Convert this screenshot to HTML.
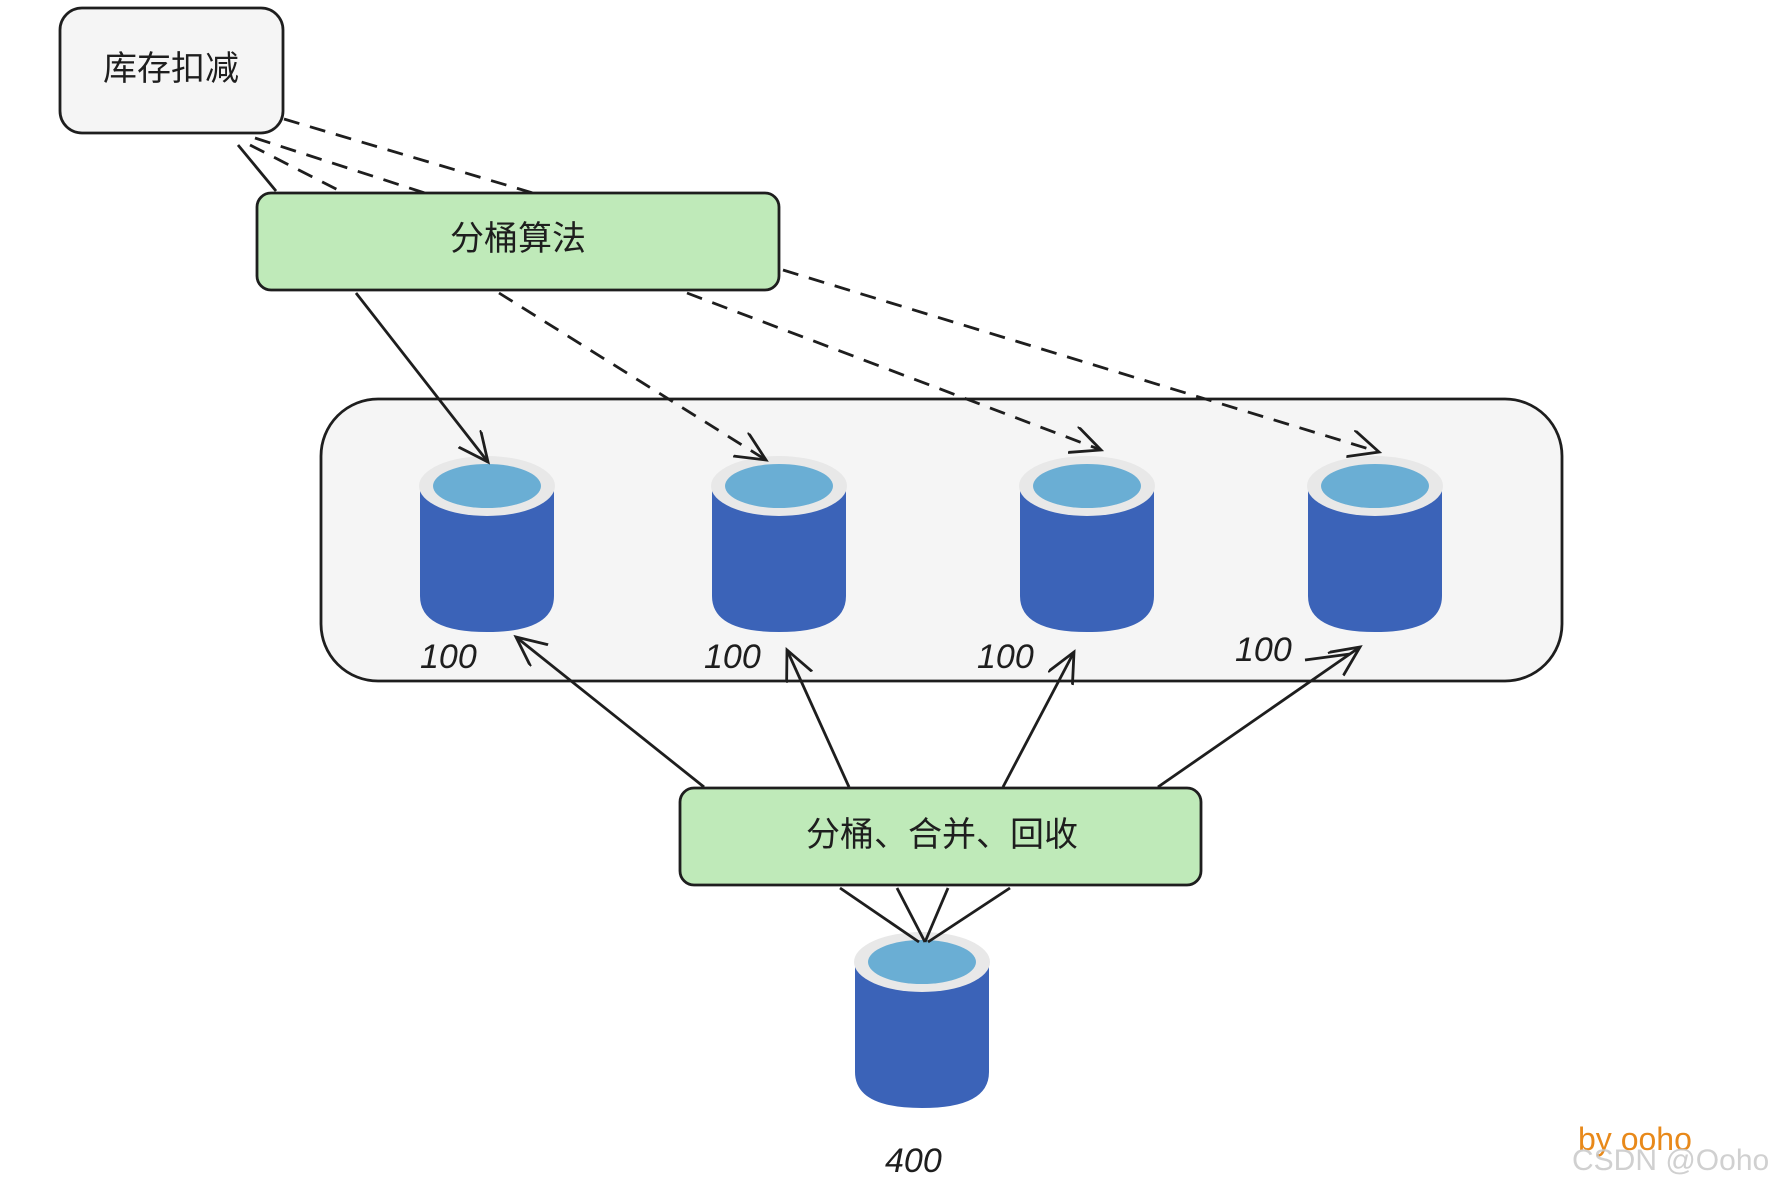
<!DOCTYPE html>
<html><head><meta charset="utf-8"><style>
html,body{margin:0;padding:0;background:#fff;}
svg{display:block;}
.t{font-family:"Liberation Sans","Noto Sans CJK SC",sans-serif;fill:#1e1e1e;}
.n{font-family:"Liberation Sans",sans-serif;font-style:italic;fill:#1e1e1e;}
</style></head><body>
<svg width="1780" height="1186" viewBox="0 0 1780 1186" xmlns="http://www.w3.org/2000/svg">
<defs>
<marker id="a" markerWidth="34" markerHeight="34" refX="30" refY="14" orient="auto" markerUnits="userSpaceOnUse">
<polyline points="0,0 30,14 0,28" fill="none" stroke="#1e1e1e" stroke-width="2.8"/>
</marker>
<g id="cyl">
<path d="M-67,0 L-67,110 Q-67,146 0,146 Q67,146 67,110 L67,0 Z" fill="#3b63b8"/>
<ellipse cx="0" cy="0" rx="68" ry="30" fill="#e8e8e8"/>
<ellipse cx="0" cy="0" rx="54" ry="22" fill="#6aaed4"/>
</g>
</defs>
<rect x="60" y="8" width="223" height="125" rx="22" fill="#f5f5f5" stroke="#1e1e1e" stroke-width="2.8"/>
<text class="t" x="171" y="80" font-size="34" text-anchor="middle">库存扣减</text>
<g stroke="#1e1e1e" stroke-width="2.8" fill="none">
<line x1="238" y1="145" x2="276" y2="191"/>
<g stroke-dasharray="16 11">
<line x1="284" y1="119" x2="533" y2="193"/>
<line x1="255" y1="138" x2="431" y2="195"/>
<line x1="250" y1="145" x2="340" y2="191"/>
</g>
</g>
<rect x="321" y="399" width="1241" height="282" rx="57" fill="#f5f5f5" stroke="#1e1e1e" stroke-width="2.8"/>
<rect x="257" y="193" width="522" height="97" rx="14" fill="#bfeab9" stroke="#1e1e1e" stroke-width="2.8"/>
<text class="t" x="518" y="250" font-size="34" text-anchor="middle">分桶算法</text>
<use href="#cyl" x="487" y="486"/>
<use href="#cyl" x="779" y="486"/>
<use href="#cyl" x="1087" y="486"/>
<use href="#cyl" x="1375" y="486"/>
<use href="#cyl" x="922" y="962"/>
<g stroke="#1e1e1e" stroke-width="2.8" fill="none">
<line x1="356" y1="293" x2="488" y2="462" marker-end="url(#a)"/>
<line x1="499" y1="293" x2="766" y2="460" stroke-dasharray="16 11" marker-end="url(#a)"/>
<line x1="687" y1="293" x2="1101" y2="450" stroke-dasharray="16 11" marker-end="url(#a)"/>
<line x1="783" y1="270" x2="1379" y2="452" stroke-dasharray="16 11" marker-end="url(#a)"/>
<line x1="704" y1="787" x2="516" y2="637" marker-end="url(#a)"/>
<line x1="849" y1="787" x2="787" y2="650" marker-end="url(#a)"/>
<line x1="1003" y1="787" x2="1074" y2="652" marker-end="url(#a)"/>
<line x1="1158" y1="787" x2="1360" y2="647" marker-end="url(#a)"/>
<line x1="1305" y1="660" x2="1350" y2="654"/>
<line x1="840" y1="888" x2="919" y2="942"/>
<line x1="897" y1="888" x2="925" y2="942"/>
<line x1="948" y1="888" x2="925" y2="942"/>
<line x1="1010" y1="888" x2="928" y2="942"/>
</g>
<rect x="680" y="788" width="521" height="97" rx="14" fill="#bfeab9" stroke="#1e1e1e" stroke-width="2.8"/>
<text class="t" x="942" y="846" font-size="34" text-anchor="middle">分桶、合并、回收</text>
<g class="n" font-size="34">
<text x="420" y="668">100</text>
<text x="704" y="668">100</text>
<text x="977" y="668">100</text>
<text x="1235" y="661">100</text>
<text x="885" y="1172">400</text>
</g>
<text x="1578" y="1150" font-family="Liberation Sans,sans-serif" font-size="32" fill="#e8891a">by ooho</text>
<text x="1572" y="1170" font-family="Liberation Sans,sans-serif" font-size="30" fill="#c8c8c8" fill-opacity="0.85">CSDN @Ooho</text>
</svg>
</body></html>
